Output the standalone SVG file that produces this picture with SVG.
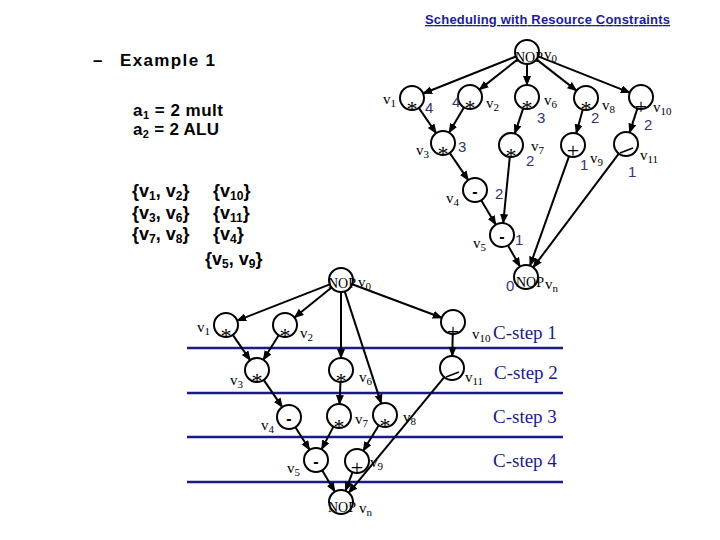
<svg xmlns="http://www.w3.org/2000/svg" width="720" height="540" viewBox="0 0 720 540">
<defs>
<marker id="ah" markerUnits="userSpaceOnUse" markerWidth="11" markerHeight="9" refX="9" refY="4" orient="auto">
<path d="M0,0 L10,4 L0,8 Z" fill="#000"/>
</marker>
<style>
.n circle{fill:#fff;stroke:#000;stroke-width:2}
.e line{stroke:#000;stroke-width:2;marker-end:url(#ah)}
.op{font-family:"Liberation Serif",serif;font-size:22px;text-anchor:middle;fill:#000}
.mi{font-family:"Liberation Sans",sans-serif;font-weight:bold;font-size:16px;text-anchor:middle}
.sl{stroke:#000;stroke-width:1.5}
.lbl{font-family:"Liberation Serif",serif;font-size:15px}
.sub{font-size:11px}
.nop{font-family:"Liberation Serif",serif;font-size:14px}
.w{font-family:"Liberation Sans",sans-serif;font-size:15px;fill:#333377}
.cs{font-family:"Liberation Serif",serif;font-size:19px;fill:#1a1a8c}
.hd{font-family:"Liberation Sans",sans-serif;font-weight:bold;font-size:17px}
.br{font-family:"Liberation Sans",sans-serif;font-weight:bold;font-size:18px}
.hl{stroke:#1a1a8c;stroke-width:2.5}
</style>
</defs>
<rect width="720" height="540" fill="#fff"/>

<text x="425" y="24" font-family="Liberation Sans, sans-serif" font-weight="bold" font-size="13" fill="#1c1c99" text-decoration="underline" textLength="245">Scheduling with Resource Constraints</text>

<g id="left-text">
<text class="hd" x="93" y="66">–</text>
<text class="hd" x="120" y="66" font-size="18" textLength="95">Example 1</text>
<text class="hd" x="133" y="116" textLength="90">a<tspan font-size="11" dy="3">1</tspan><tspan dy="-3"> = 2 mult</tspan></text>
<text class="hd" x="133" y="135" textLength="86">a<tspan font-size="11" dy="3">2</tspan><tspan dy="-3"> = 2 ALU</tspan></text>
<text class="br" x="132" y="197">{v<tspan font-size="12" dy="3">1</tspan><tspan dy="-3">, v</tspan><tspan font-size="12" dy="3">2</tspan><tspan dy="-3">}</tspan></text>
<text class="br" x="213" y="197">{v<tspan font-size="12" dy="3">10</tspan><tspan dy="-3">}</tspan></text>
<text class="br" x="132" y="219">{v<tspan font-size="12" dy="3">3</tspan><tspan dy="-3">, v</tspan><tspan font-size="12" dy="3">6</tspan><tspan dy="-3">}</tspan></text>
<text class="br" x="213" y="219">{v<tspan font-size="12" dy="3">11</tspan><tspan dy="-3">}</tspan></text>
<text class="br" x="132" y="240">{v<tspan font-size="12" dy="3">7</tspan><tspan dy="-3">, v</tspan><tspan font-size="12" dy="3">8</tspan><tspan dy="-3">}</tspan></text>
<text class="br" x="213" y="240">{v<tspan font-size="12" dy="3">4</tspan><tspan dy="-3">}</tspan></text>
<text class="br" x="205" y="265">{v<tspan font-size="12" dy="3">5</tspan><tspan dy="-3">, v</tspan><tspan font-size="12" dy="3">9</tspan><tspan dy="-3">}</tspan></text>
</g>

<g id="csteps">
<line class="hl" x1="187" y1="348" x2="563" y2="348"/>
<line class="hl" x1="187" y1="393" x2="563" y2="393"/>
<line class="hl" x1="187" y1="437" x2="563" y2="437"/>
<line class="hl" x1="187" y1="482" x2="563" y2="482"/>
<text class="cs" x="493" y="339">C-step 1</text>
<text class="cs" x="494" y="379">C-step 2</text>
<text class="cs" x="493" y="423">C-step 3</text>
<text class="cs" x="493" y="467">C-step 4</text>
</g>

<g id="top-edges" class="e">
<line x1="515.9" y1="56.5" x2="423.1" y2="93.5"/>
<line x1="517.6" y1="59.4" x2="479.4" y2="89.6"/>
<line x1="527" y1="64" x2="527" y2="85"/>
<line x1="536.5" y1="59.4" x2="576.5" y2="90.6"/>
<line x1="538.2" y1="56.4" x2="629.8" y2="92.6"/>
<line x1="418.8" y1="107.9" x2="436.2" y2="133.1"/>
<line x1="463.9" y1="107.4" x2="449.1" y2="132.6"/>
<line x1="449.7" y1="152.9" x2="468.3" y2="180.1"/>
<line x1="523.2" y1="108.4" x2="514.8" y2="133.6"/>
<line x1="582.8" y1="109.6" x2="576.2" y2="133.4"/>
<line x1="637.4" y1="108.4" x2="629.6" y2="132.6"/>
<line x1="481.2" y1="200.3" x2="495.8" y2="224.7"/>
<line x1="509.8" y1="156.9" x2="503.2" y2="223.1"/>
<line x1="508" y1="245.4" x2="520" y2="266.6"/>
<line x1="569" y1="156.3" x2="530" y2="265.7"/>
<line x1="618.8" y1="153.6" x2="533.2" y2="267.4"/>
</g>

<g id="t-v0" class="n"><circle cx="527" cy="52" r="12"/><text class="nop" x="515" y="62">NOP</text><text class="lbl" x="544" y="59">v<tspan class="sub" dy="3">0</tspan></text></g>
<g id="t-v1" class="n"><circle cx="412" cy="98" r="12"/><text class="op" x="412" y="116">*</text><text class="lbl" x="383" y="104">v<tspan class="sub" dy="3">1</tspan></text><text class="w" x="425" y="113">4</text></g>
<g id="t-v2" class="n"><circle cx="470" cy="97" r="12"/><text class="op" x="470" y="115">*</text><text class="lbl" x="486" y="108">v<tspan class="sub" dy="3">2</tspan></text><text class="w" x="452" y="107">4</text></g>
<g id="t-v6" class="n"><circle cx="527" cy="97" r="12"/><text class="op" x="527" y="115">*</text><text class="lbl" x="544" y="105">v<tspan class="sub" dy="3">6</tspan></text><text class="w" x="537" y="123">3</text></g>
<g id="t-v8" class="n"><circle cx="586" cy="98" r="12"/><text class="op" x="586" y="116">*</text><text class="lbl" x="602" y="110">v<tspan class="sub" dy="3">8</tspan></text><text class="w" x="591" y="123">2</text></g>
<g id="t-v10" class="n"><circle cx="641" cy="97" r="12"/><text class="op" x="641" y="114">+</text><text class="lbl" x="653" y="112">v<tspan class="sub" dy="3">10</tspan></text><text class="w" x="644" y="130">2</text></g>
<g id="t-v3" class="n"><circle cx="443" cy="143" r="12"/><text class="op" x="443" y="161">*</text><text class="lbl" x="416" y="155">v<tspan class="sub" dy="3">3</tspan></text><text class="w" x="458" y="152">3</text></g>
<g id="t-v7" class="n"><circle cx="511" cy="145" r="12"/><text class="op" x="511" y="163">*</text><text class="lbl" x="531" y="151">v<tspan class="sub" dy="3">7</tspan></text><text class="w" x="526" y="166">2</text></g>
<g id="t-v9" class="n"><circle cx="573" cy="145" r="12"/><text class="op" x="573" y="158">+</text><text class="lbl" x="590" y="163">v<tspan class="sub" dy="3">9</tspan></text><text class="w" x="580" y="170">1</text></g>
<g id="t-v11" class="n"><circle cx="626" cy="144" r="12"/><line class="sl" x1="620" y1="153" x2="633" y2="148"/><text class="lbl" x="640" y="160">v<tspan class="sub" dy="3">11</tspan></text><text class="w" x="628" y="177">1</text></g>
<g id="t-v4" class="n"><circle cx="475" cy="190" r="12"/><text class="mi" x="475" y="197">-</text><text class="lbl" x="446" y="203">v<tspan class="sub" dy="3">4</tspan></text><text class="w" x="495" y="199">2</text></g>
<g id="t-v5" class="n"><circle cx="502" cy="235" r="12"/><text class="mi" x="502" y="242">-</text><text class="lbl" x="473" y="248">v<tspan class="sub" dy="3">5</tspan></text><text class="w" x="515" y="245">1</text></g>
<g id="t-vn" class="n"><circle cx="526" cy="277" r="12"/><text class="nop" x="516" y="287">NOP</text><text class="lbl" x="545" y="289">v<tspan class="sub" dy="3">n</tspan></text><text class="w" x="506" y="291">0</text></g>

<g id="bottom-edges" class="e">
<line x1="329.8" y1="284.4" x2="237.2" y2="320.6"/>
<line x1="331.6" y1="287.5" x2="294.4" y2="317.5"/>
<line x1="341" y1="292" x2="341" y2="358"/>
<line x1="344.7" y1="291.4" x2="381.3" y2="403.6"/>
<line x1="352.2" y1="284.2" x2="441.8" y2="317.8"/>
<line x1="232.8" y1="334.9" x2="250.2" y2="360.1"/>
<line x1="278.7" y1="335.2" x2="263.3" y2="359.8"/>
<line x1="263.7" y1="379.9" x2="282.3" y2="407.1"/>
<line x1="340.5" y1="382" x2="339.5" y2="404"/>
<line x1="452.7" y1="334" x2="452.3" y2="356"/>
<line x1="295.4" y1="427.2" x2="309.6" y2="449.8"/>
<line x1="333.4" y1="426.6" x2="321.6" y2="449.4"/>
<line x1="378.8" y1="425.2" x2="363.2" y2="450.8"/>
<line x1="322.1" y1="470.3" x2="334.9" y2="491.7"/>
<line x1="352.6" y1="472.2" x2="345.4" y2="490.8"/>
<line x1="444.3" y1="377.2" x2="348.7" y2="492.8"/>
</g>

<g id="b-v0" class="n"><circle cx="341" cy="280" r="12"/><text class="nop" x="328" y="288">NOP</text><text class="lbl" x="358" y="287">v<tspan class="sub" dy="3">0</tspan></text></g>
<g id="b-v1" class="n"><circle cx="226" cy="325" r="12"/><text class="op" x="226" y="343">*</text><text class="lbl" x="197" y="332">v<tspan class="sub" dy="3">1</tspan></text></g>
<g id="b-v2" class="n"><circle cx="285" cy="325" r="12"/><text class="op" x="285" y="343">*</text><text class="lbl" x="300" y="338">v<tspan class="sub" dy="3">2</tspan></text></g>
<g id="b-v10" class="n"><circle cx="453" cy="322" r="12"/><text class="op" x="453" y="339">+</text><text class="lbl" x="472" y="339">v<tspan class="sub" dy="3">10</tspan></text></g>
<g id="b-v3" class="n"><circle cx="257" cy="370" r="12"/><text class="op" x="257" y="388">*</text><text class="lbl" x="230" y="385">v<tspan class="sub" dy="3">3</tspan></text></g>
<g id="b-v6" class="n"><circle cx="341" cy="370" r="12"/><text class="op" x="341" y="388">*</text><text class="lbl" x="359" y="382">v<tspan class="sub" dy="3">6</tspan></text></g>
<g id="b-v11" class="n"><circle cx="452" cy="368" r="12"/><line class="sl" x1="446" y1="377" x2="459" y2="372"/><text class="lbl" x="465" y="382">v<tspan class="sub" dy="3">11</tspan></text></g>
<g id="b-v4" class="n"><circle cx="289" cy="417" r="12"/><text class="mi" x="289" y="424">-</text><text class="lbl" x="261" y="430">v<tspan class="sub" dy="3">4</tspan></text></g>
<g id="b-v7" class="n"><circle cx="339" cy="416" r="12"/><text class="op" x="339" y="434">*</text><text class="lbl" x="355" y="424">v<tspan class="sub" dy="3">7</tspan></text></g>
<g id="b-v8" class="n"><circle cx="385" cy="415" r="12"/><text class="op" x="385" y="433">*</text><text class="lbl" x="403" y="422">v<tspan class="sub" dy="3">8</tspan></text></g>
<g id="b-v5" class="n"><circle cx="316" cy="460" r="12"/><text class="mi" x="316" y="467">-</text><text class="lbl" x="287" y="473">v<tspan class="sub" dy="3">5</tspan></text></g>
<g id="b-v9" class="n"><circle cx="357" cy="461" r="12"/><text class="op" x="357" y="475">+</text><text class="lbl" x="370" y="467">v<tspan class="sub" dy="3">9</tspan></text></g>
<g id="b-vn" class="n"><circle cx="341" cy="502" r="12"/><text class="nop" x="328" y="512">NOP</text><text class="lbl" x="359" y="513">v<tspan class="sub" dy="3">n</tspan></text></g>
</svg>
